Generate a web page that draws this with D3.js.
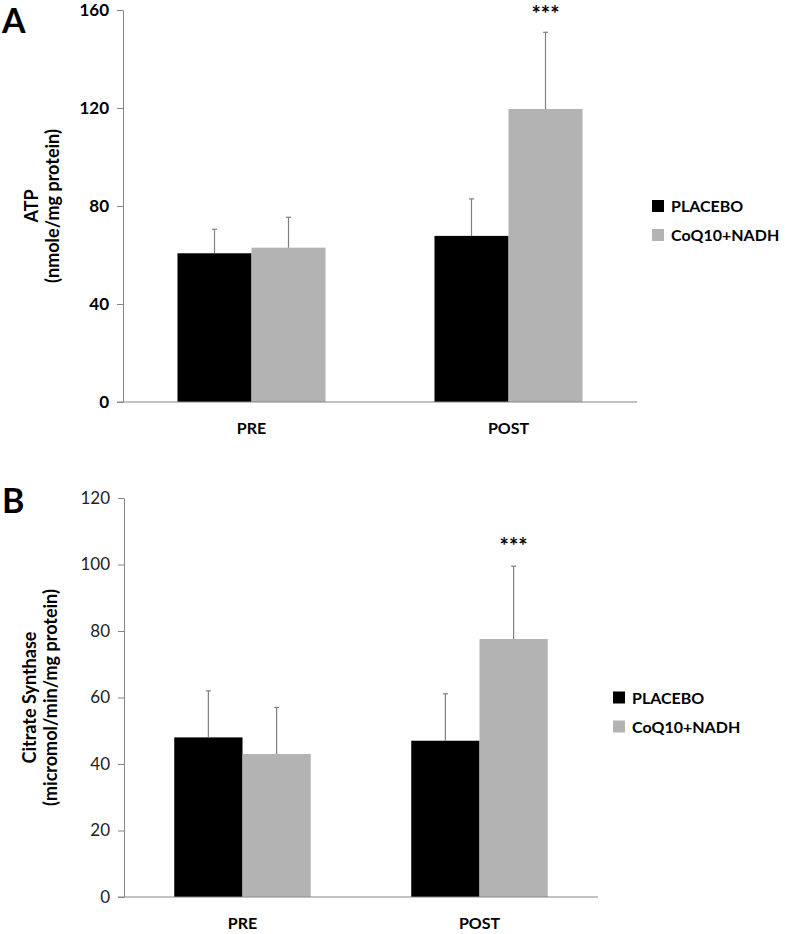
<!DOCTYPE html>
<html>
<head>
<meta charset="utf-8">
<script src="https://cdn.jsdelivr.net/npm/d3@7"></script>
<style>
  html, body { margin: 0; padding: 0; background: #fff; }
  svg { display: block; }
  text { font-family: Lato, "Open Sans", sans-serif; }
</style>
</head>
<body>
<svg id="chart" width="792" height="934"></svg>
<script>
// ---- data ----
const categories = ["PRE", "POST"];
const seriesNames = ["PLACEBO", "CoQ10+NADH"];
const seriesColors = ["#000000", "#b3b3b3"];

const atpTicks = [0, 40, 80, 120, 160];
const atpPlacebo = [60.7, 67.8];
const atpCoq = [63.0, 119.6];
const atpPlaceboErr = [9.8, 15.1];
const atpCoqErr = [12.4, 31.3];

const csTicks = [0, 20, 40, 60, 80, 100, 120];
const csPlacebo = [48.0, 47.0];
const csCoq = [43.0, 77.6];
const csPlaceboErr = [14.0, 14.1];
const csCoqErr = [14.0, 21.9];

const svg = d3.select("#chart");
const axisColor = "#868686";

function panel(cfg) {
  const g = svg.append("g");
  const x0 = d3.scaleBand().domain(categories).range([cfg.left, cfg.right])
    .paddingInner(0.424).paddingOuter(0.212);
  const x1 = d3.scaleBand().domain(seriesNames).range([0, x0.bandwidth()]);
  const y = d3.scaleLinear().domain([0, cfg.max]).range([cfg.bottom, cfg.top]);

  const rows = categories.map((c, i) => ({
    cat: c,
    vals: [
      { s: seriesNames[0], v: cfg.placebo[i], e: cfg.placeboErr[i], col: seriesColors[0] },
      { s: seriesNames[1], v: cfg.coq[i], e: cfg.coqErr[i], col: seriesColors[1] }
    ]
  }));

  // bars
  const grp = g.selectAll("g.cat").data(rows).enter().append("g")
    .attr("transform", d => `translate(${x0(d.cat)},0)`);
  grp.selectAll("rect").data(d => d.vals).enter().append("rect")
    .attr("x", d => x1(d.s))
    .attr("width", x1.bandwidth())
    .attr("y", d => y(d.v))
    .attr("height", d => y(0) - y(d.v))
    .attr("fill", d => d.col);

  // error bars (upper only)
  grp.selectAll("line.err").data(d => d.vals).enter().append("line")
    .attr("x1", d => x1(d.s) + x1.bandwidth() / 2)
    .attr("x2", d => x1(d.s) + x1.bandwidth() / 2)
    .attr("y1", d => y(d.v))
    .attr("y2", d => y(d.v + d.e))
    .attr("stroke", "#7f7f7f").attr("stroke-width", 1.2);
  grp.selectAll("line.cap").data(d => d.vals).enter().append("line")
    .attr("x1", d => x1(d.s) + x1.bandwidth() / 2 - 2.5)
    .attr("x2", d => x1(d.s) + x1.bandwidth() / 2 + 2.5)
    .attr("y1", d => y(d.v + d.e))
    .attr("y2", d => y(d.v + d.e))
    .attr("stroke", "#7f7f7f").attr("stroke-width", 1.2);

  // significance
  g.append("text")
    .attr("x", x0("POST") + x1(seriesNames[1]) + x1.bandwidth() / 2)
    .attr("y", y(cfg.coq[1] + cfg.coqErr[1]) - cfg.starGap)
    .attr("text-anchor", "middle")
    .attr("font-size", 22).attr("font-weight", "bold")
    .text("***");

  // y axis
  const ya = g.append("g").attr("transform", `translate(${cfg.left},0)`)
    .call(d3.axisLeft(y).tickValues(cfg.ticks).tickSize(6).tickSizeOuter(0).tickPadding(8));
  ya.select(".domain").attr("stroke", axisColor);
  ya.selectAll(".tick line").attr("stroke", axisColor);
  ya.selectAll(".tick text")
    .attr("font-family", "Lato, 'Open Sans', sans-serif")
    .attr("font-size", 17)
    .attr("font-weight", cfg.boldTicks ? "bold" : "normal")
    .attr("fill", cfg.boldTicks ? "#000" : "#222");

  // x axis line
  g.append("line")
    .attr("x1", cfg.left - 6).attr("x2", cfg.right)
    .attr("y1", y(0)).attr("y2", y(0))
    .attr("stroke", axisColor).attr("stroke-width", 1);

  // category labels
  g.selectAll("text.cat").data(categories).enter().append("text")
    .attr("x", d => x0(d) + x0.bandwidth() / 2)
    .attr("y", y(0) + 32)
    .attr("text-anchor", "middle")
    .attr("font-size", 16).attr("font-weight", "bold")
    .text(d => d);

  // y title
  const cy = (cfg.top + cfg.bottom) / 2;
  const t = g.append("text")
    .attr("transform", `translate(${cfg.titleX},${cy}) rotate(-90)`)
    .attr("text-anchor", "middle")
    .attr("font-size", cfg.titleSize).attr("font-weight", "bold");
  t.append("tspan").attr("x", 0).attr("dy", 0).text(cfg.title1);
  t.append("tspan").attr("x", 0).attr("dy", cfg.titleSize + 3).text(cfg.title2);

  // panel letter
  g.append("text")
    .attr("x", 2).attr("y", cfg.letterY)
    .attr("font-family", "'Liberation Sans', Arial, sans-serif")
    .attr("font-size", 34).attr("font-weight", "bold")
    .text(cfg.letter);

  // legend
  const lg = g.append("g").attr("transform", `translate(${cfg.legendX},${cy - 6})`);
  seriesNames.forEach((s, i) => {
    lg.append("rect").attr("x", 0).attr("y", i * 29).attr("width", 12).attr("height", 12)
      .attr("fill", seriesColors[i]);
    lg.append("text").attr("x", 19).attr("y", i * 29 + 12)
      .attr("font-size", 16).attr("font-weight", "bold").text(s);
  });
}

panel({
  letter: "A", letterY: 33,
  left: 123, right: 637, top: 10, bottom: 402, max: 160,
  ticks: atpTicks, boldTicks: true,
  placebo: atpPlacebo, coq: atpCoq, placeboErr: atpPlaceboErr, coqErr: atpCoqErr,
  title1: "ATP", title2: "(nmole/mg protein)", titleX: 38, titleSize: 18,
  legendX: 652, starGap: 10
});

panel({
  letter: "B", letterY: 513,
  left: 124, right: 598, top: 498, bottom: 897, max: 120,
  ticks: csTicks, boldTicks: false,
  placebo: csPlacebo, coq: csCoq, placeboErr: csPlaceboErr, coqErr: csCoqErr,
  title1: "Citrate Synthase", title2: "(micromol/min/mg protein)", titleX: 36, titleSize: 18,
  legendX: 613, starGap: 12
});
</script>
</body>
</html>
